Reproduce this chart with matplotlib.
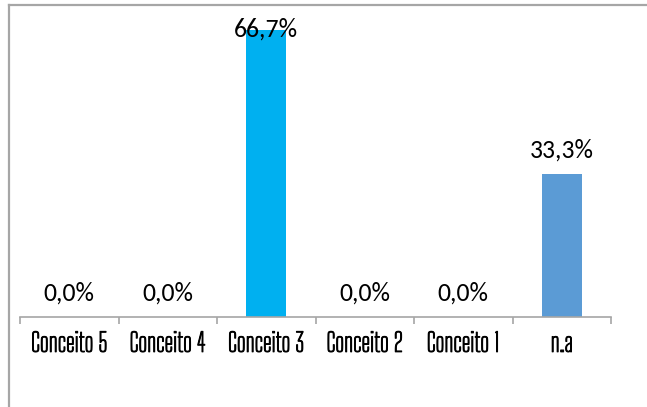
import matplotlib.pyplot as plt
import matplotlib.patheffects as pe
from matplotlib.lines import Line2D

# Chart data
categories = ['Conceito 5', 'Conceito 4', 'Conceito 3', 'Conceito 2', 'Conceito 1', 'n.a']
values = [0.0, 0.0, 66.7, 0.0, 0.0, 33.3]
bar_colors = ['#00B0F0', '#00B0F0', '#00B0F0', '#00B0F0', '#00B0F0', '#5B9BD5']

fig = plt.figure(figsize=(6.47, 4.07), dpi=100)
ax = fig.add_axes([20 / 647, 90 / 407, 591 / 647, 301 / 407])

x = list(range(len(categories)))
ax.bar(x, values, width=0.41, color=bar_colors)

ax.set_xlim(-0.5, len(categories) - 0.5)
ax.set_ylim(0, 70)

# value labels (the tallest one is pushed inside the plot area, as in the original)
for xi, v in zip(x, values):
    off = 17 if v < 60 else 1
    label = f'{v:.1f}%'.replace('.', ',')
    ax.annotate(label, (xi, v), xytext=(0, off), textcoords='offset points',
                ha='center', va='center', fontsize=18.5, family=['Carlito', 'DejaVu Sans'],
                color='#000000')

# axis styling
for s in ['top', 'right', 'left']:
    ax.spines[s].set_visible(False)
ax.spines['bottom'].set_color('#A6A6A6')
ax.spines['bottom'].set_linewidth(1.2)
ax.set_yticks([])
ax.set_xticks(x)
ax.set_xticklabels(categories, family=['Big Shoulders Text', 'DejaVu Sans'], fontsize=18.5)
for t in ax.get_xticklabels():
    # the condensed font is thin, thicken it a bit
    t.set_path_effects([pe.withStroke(linewidth=0.7, foreground='#000000')])
ax.tick_params(axis='x', which='major', length=0, pad=10)
ax.set_xticks([i - 0.5 for i in range(len(categories) + 1)], minor=True)
ax.tick_params(axis='x', which='minor', length=5, width=1.2, color='#A6A6A6', direction='out')

# chart area border (only top and left visible in the crop)
fig.add_artist(Line2D([8.5 / 647, 8.5 / 647], [0, 1 - 4.5 / 407], transform=fig.transFigure,
                      color='#A6A6A6', lw=1.6))
fig.add_artist(Line2D([8.5 / 647, 1], [1 - 4.5 / 407, 1 - 4.5 / 407], transform=fig.transFigure,
                      color='#A6A6A6', lw=1.6))

fig.savefig('out.png', dpi=100)
